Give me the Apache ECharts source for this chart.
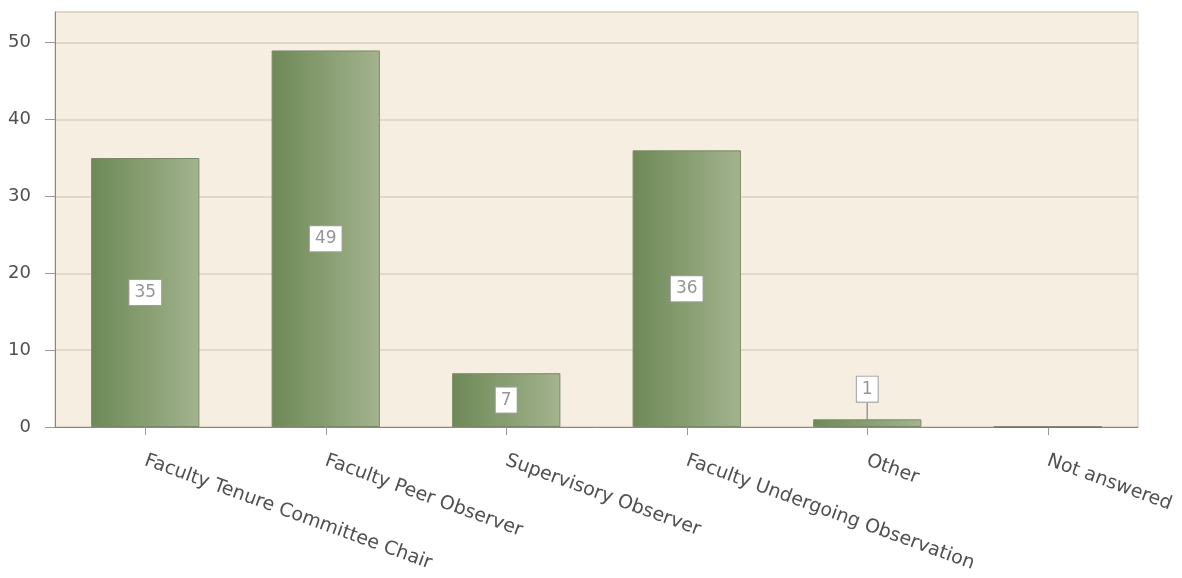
<!DOCTYPE html>
<html>
<head>
<meta charset="utf-8">
<script src="https://cdn.jsdelivr.net/npm/echarts@6/dist/echarts.min.js"></script>
<style>
  html, body { margin: 0; padding: 0; background: #fff; }
  #chart { width: 1182px; height: 578px; }
</style>
</head>
<body>
<div id="chart"></div>
<script>
// categories and counts
const categories = [
  'Faculty Tenure Committee Chair',
  'Faculty Peer Observer',
  'Supervisory Observer',
  'Faculty Undergoing Observation',
  'Other',
  'Not answered'
];
const counts = [35, 49, 7, 36, 1, 0];

const FONT = 'DejaVu Sans';

const chart = echarts.init(document.getElementById('chart'));

const barGradient = new echarts.graphic.LinearGradient(0, 0, 1, 0, [
  { offset: 0, color: '#6d8956' },
  { offset: 1, color: '#a3b38e' }
]);

const valueLabel = {
  show: true,
  position: 'inside',
  fontFamily: FONT,
  fontSize: 17,
  color: '#969696',
  backgroundColor: '#ffffff',
  borderColor: '#a0a0a0',
  borderWidth: 1,
  padding: [4, 5],
  formatter: p => (p.value ? String(p.value) : '')
};

const seriesData = counts.map(v => {
  const item = { value: v };
  if (v === 0) {
    item.label = { show: false };
    item.itemStyle = { borderColor: '#6b6f60', borderWidth: 1.5 };
  }
  // small bar: label sits above with a leader line
  if (v > 0 && v < 3) {
    item.labelLine = { show: true, lineStyle: { color: '#9a9a9a', width: 1.5 } };
  }
  return item;
});

chart.setOption({
  animation: false,
  grid: {
    left: 55,
    right: 44,
    top: 12,
    bottom: 151,
    show: true,
    backgroundColor: '#f6efe1',
    borderColor: '#d0c9bc',
    borderWidth: 1
  },
  xAxis: {
    type: 'category',
    data: categories,
    axisLine: { lineStyle: { color: '#888888', width: 1 } },
    axisTick: { show: true, alignWithLabel: true, length: 8, lineStyle: { color: '#9a9a9a' } },
    axisLabel: {
      interval: 0,
      rotate: -20,
      margin: 33,
      fontFamily: FONT,
      fontSize: 19,
      color: '#505050'
    },
    splitLine: { show: false }
  },
  yAxis: {
    type: 'value',
    min: 0,
    max: 54,
    interval: 10,
    axisLine: { show: true, lineStyle: { color: '#888888', width: 1 } },
    axisTick: { show: true, length: 10, lineStyle: { color: '#9a9a9a' } },
    axisLabel: {
      showMaxLabel: false,
      margin: 24,
      fontFamily: FONT,
      fontSize: 18,
      color: '#505050'
    },
    splitLine: { lineStyle: { color: '#dcd2bf', width: 1.5 } }
  },
  series: [
    {
      type: 'bar',
      data: seriesData,
      barWidth: '60%',
      itemStyle: {
        color: barGradient,
        borderColor: '#7b8a68',
        borderWidth: 1
      },
      label: valueLabel,
      labelLayout: params => {
        const v = counts[params.dataIndex];
        return v > 0 && v < 3 ? { dy: -34 } : {};
      }
    }
  ]
});
</script>
</body>
</html>
